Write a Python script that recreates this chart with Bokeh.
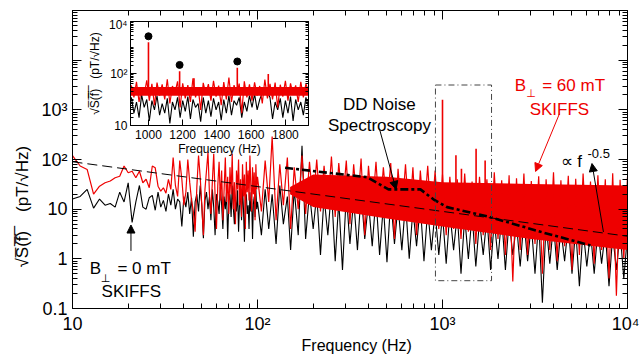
from bokeh.plotting import figure
from bokeh.models import LogAxis, LinearAxis, FixedTicker, Arrow, NormalHead, Range1d
from bokeh.embed import file_html
from bokeh.resources import INLINE
from bokeh.core.properties import value

RED = "#ee0000"
FONT = "Liberation Sans"

# ---------------- data ----------------
low_f = list(range(10, 100))  # 1 Hz bins
red_low = [120, 74, 63, 20, 29, 34, 37, 43, 46, 74,
           54, 58, 43, 58, 34, 40, 27, 74, 68, 29,
           23, 27, 21, 40, 25, 110, 30, 18, 95, 40,
           12, 22, 100, 35, 15, 9, 3.5, 28, 120, 45,
           12, 3, 25, 60, 140, 20, 8, 35, 130, 18,
           4, 30, 90, 15, 60, 6, 25, 110, 14, 45,
           8, 70, 20, 130, 10, 35, 5, 60, 25, 100,
           12, 40, 7, 80, 18, 50, 4, 90, 22, 60,
           15, 120, 30, 9, 70, 20, 55, 6, 80, 25]
black_low = [16, 18, 25, 10.5, 16, 12, 13, 11, 22, 14,
             34, 5.4, 14, 30, 11, 10, 17, 19, 9.5, 22,
             11, 15, 9, 20, 12, 25, 10, 16, 14, 4.5,
             18, 11, 22, 8, 17, 2.8, 14, 20, 9, 30,
             12, 2.6, 15, 22, 10, 18, 6, 25, 11, 3,
             20, 14, 8, 28, 12, 4, 18, 10, 22, 2.5,
             15, 20, 7, 30, 11, 5, 16, 9, 24, 3.5,
             14, 18, 6, 26, 10, 2.2, 15, 20, 8, 12,
             4, 22, 9, 16, 2.5, 13, 18, 7, 25, 10]

dense_f = [100, 105, 110, 115, 120, 126, 132, 138, 145, 151,
           158, 166, 174, 182, 191, 200, 209, 219, 229, 240,
           251, 263, 275, 288, 302, 316, 331, 347, 363, 380,
           398, 417, 437, 457, 479, 501, 525, 550, 575, 603,
           631, 661, 692, 724, 759, 794, 832, 871, 912, 955,
           1000, 1047, 1096, 1148, 1202, 1259, 1318, 1380, 1445, 1514,
           1585, 1660, 1738, 1820, 1905, 1995, 2089, 2188, 2291, 2399,
           2512, 2630, 2754, 2884, 3020, 3162, 3311, 3467, 3631, 3802,
           3981, 4169, 4365, 4571, 4786, 5012, 5248, 5495, 5754, 6026,
           6310, 6607, 6918, 7244, 7586, 7943, 8318, 8710, 9120, 9550,
           10000]
red_dense = [45, 9, 95, 14, 290, 6, 80, 12, 110, 4,
             70, 10, 120, 8, 90, 13, 100, 9, 75, 11,
             115, 7, 85, 12, 95, 5, 80, 10, 105, 3,
             75, 9, 90, 7, 70, 11, 85, 2.5, 65, 8,
             80, 6, 70, 3, 60, 7, 75, 5, 60, 4,
             50, 3, 45, 4, 40, 2.5, 52, 3.5, 36, 2,
             45, 3, 40, 1.5, 55, 2.5, 38, 1.2, 48, 0.35,
             42, 1.5, 52, 1.2, 37, 2, 46, 0.5, 40, 1.5,
             55, 0.9, 38, 1.8, 47, 0.6, 41, 1.2, 52, 2,
             36, 0.8, 48, 1.5, 40, 0.4, 53, 0.18, 39, 1,
             45]
black_dense = [14, 3, 25, 4, 20, 2, 30, 5, 18, 1.5,
               25, 3, 190, 2.5, 22, 4, 20, 1.2, 18, 3,
               25, 0.9, 15, 0.6, 20, 2, 16, 1.5, 22, 2.5,
               14, 1.8, 18, 1.2, 12, 0.85, 16, 2, 12, 1.5,
               14, 1, 10, 1.8, 12, 0.9, 10, 1.5, 9, 1.2,
               8, 0.8, 9, 1.5, 8, 0.5, 7, 1, 8, 0.7,
               6, 1.2, 7, 0.6, 6, 1, 7, 0.6, 6, 1.2,
               5, 0.7, 6, 0.9, 5, 0.5, 6, 0.13, 5, 0.8,
               5, 0.6, 4, 0.9, 5, 0.5, 4, 0.28, 4, 0.7,
               3.5, 0.5, 4, 0.8, 3.5, 0.28, 3, 0.6, 3.5, 0.4,
               3]

# solid core of the dense 60 mT band
core_f = [150, 200, 500, 1000, 3000, 10000]
red_core_lo = [20, 11, 6.5, 4.5, 2.5, 1.5]
red_core_hi = [28, 50, 45, 35, 32, 30]

# narrow peaks of the 60 mT spectrum
spike_f = [1000, 1182, 1266, 1519, 1700]
spike_v = [1600, 122, 65, 165, 95]
spike_base = [25, 25, 25, 25, 25]
dot_f = [1000, 1182, 1519]
dot_v = [2700, 214, 290]

# reference lines
fpow_f = [10, 10000]
fpow_v = [90, 2.85]
dd_f = [141, 392, 511, 760, 893, 1059, 1815, 3390, 6310]
dd_v = [68, 44, 25, 25, 15.8, 11, 6.9, 3.5, 1.86]

# zoom box
box_f = [916, 1841]
box_v = [0.363, 3162]

# inset spectra (linear frequency)
inset_f = list(range(900, 1936, 15))
inset_red = [35, 12, 48, 8, 30, 15, 55, 9, 40, 6,
             45, 14, 38, 10, 60, 7, 33, 18, 50, 5,
             42, 11, 36, 8, 65, 12, 30, 4, 44, 16,
             39, 9, 52, 13, 34, 6, 47, 10, 70, 8,
             36, 15, 41, 3, 50, 12, 38, 9, 46, 14,
             33, 7, 58, 11, 40, 10, 45, 5, 37, 13,
             52, 9, 42, 15, 35, 8, 48, 12, 40, 20]
inset_black = [12, 3, 8, 2, 15, 5, 10, 1.5, 9, 4,
               14, 2.5, 7, 3, 11, 1.2, 8, 4, 12, 2,
               9, 3.5, 13, 1.8, 10, 5, 7, 1.4, 12, 3,
               9, 2.2, 11, 4, 8, 1.6, 10, 3, 14, 2.5,
               9, 6, 12, 2, 8, 3.5, 14, 5, 16, 4,
               10, 18, 25, 20, 12, 1.8, 8, 4, 11, 2,
               9, 3, 13, 1.5, 10, 4, 8, 2.5, 12, 5]
inset_core_f = [895, 1935]
inset_red_lo = [14, 14]
inset_red_hi = [30, 30]

# tick labels
x_ticks = [10, 100, 1000, 10000]
x_labels = ["10", "10²", "10³", "10⁴"]
y_ticks = [0.1, 1, 10, 100, 1000, 10000, 100000]
y_labels = ["0.1", "1", "10", "10²", "10³", "\u00a0", "\u00a0"]
ix_ticks = [1000, 1200, 1400, 1600, 1800]
iy_ticks = [1, 100, 10000]
iy_labels = ["10", "10²", "10⁴"]

# ---------------- helpers ----------------
def minors(k0, k1):
    return [m * 10.0 ** k for k in range(k0, k1) for m in range(2, 10)]


def style_axis(ax, major_in, minor_in, size, labels=True):
    ax.major_tick_in = major_in
    ax.major_tick_out = 0
    ax.minor_tick_in = minor_in
    ax.minor_tick_out = 0
    ax.axis_line_color = "black"
    ax.major_tick_line_color = "black"
    ax.minor_tick_line_color = "black"
    ax.major_label_text_font = FONT
    ax.major_label_text_color = "black"
    ax.axis_label_text_font = FONT
    ax.axis_label_text_font_style = "normal"
    ax.axis_label_text_color = "black"
    if labels:
        ax.major_label_text_font_size = size
    else:
        ax.major_label_text_font_size = "1px"
        ax.major_label_text_alpha = 0
        ax.major_label_standoff = 0


# ---------------- main figure ----------------
p = figure(width=639, height=356, x_axis_type="log", y_axis_type="log",
           x_range=Range1d(10, 10000), y_range=Range1d(0.1, 100000),
           output_backend="svg", toolbar_location=None,
           min_border_left=72, min_border_right=12, min_border_top=10, min_border_bottom=46)
p.grid.visible = False
p.outline_line_color = "black"
p.background_fill_color = "white"

xa = p.xaxis[0]
ya = p.yaxis[0]
xa.ticker = FixedTicker(ticks=x_ticks, minor_ticks=minors(1, 4))
ya.ticker = FixedTicker(ticks=y_ticks, minor_ticks=minors(-1, 5))
style_axis(xa, 9, 5, "18px")
style_axis(ya, 9, 5, "18px")
xa.major_label_overrides = dict(zip(x_ticks, x_labels))
ya.major_label_overrides = dict(zip(y_ticks, y_labels))
xa.axis_label = "\u00a0\u00a0\u00a0Frequency (Hz)"
xa.axis_label_text_font_size = "16px"
xa.axis_label_standoff = 0
xa.major_label_standoff = 5
ya.axis_label = "√S̅(̅f̅)̅\u00a0\u00a0\u00a0\u00a0(pT/√Hz)" + "\u00a0" * 20
ya.axis_label_text_font_size = "17px"
ya.axis_label_standoff = 6
ya.major_label_standoff = 5

top = LogAxis(ticker=FixedTicker(ticks=x_ticks, minor_ticks=minors(1, 4)))
style_axis(top, 9, 5, "1px", labels=False)
p.add_layout(top, "above")
right = LogAxis(ticker=FixedTicker(ticks=y_ticks, minor_ticks=minors(-1, 5)))
style_axis(right, 9, 5, "1px", labels=False)
p.add_layout(right, "right")

# spectra
p.line(x=low_f + dense_f, y=black_low + black_dense, line_color="black", line_width=1.1)
p.varea(x=core_f, y1=red_core_lo, y2=red_core_hi, fill_color=RED)
p.line(x=low_f + dense_f, y=red_low + red_dense, line_color=RED, line_width=1.2)
p.segment(x0=spike_f, y0=spike_base, x1=spike_f, y1=spike_v, line_color=RED, line_width=1.6)

# reference lines
p.line(x=fpow_f, y=fpow_v, line_color="black", line_width=1, line_dash="10 5")
p.line(x=dd_f, y=dd_v, line_color="black", line_width=2.6, line_dash="8 3 3 3")
p.quad(left=[box_f[0]], right=[box_f[1]], bottom=[box_v[0]], top=[box_v[1]],
       fill_alpha=0, line_color="#444444", line_width=1, line_dash="6 3 1 3")

# annotations
tf = value(FONT)
sf = value("DejaVu Sans")
p.text(x=[456, 456], y=[1259, 485], text=["DD Noise", "Spectroscopy"], text_font=tf,
       text_font_size="17px", text_align="center", text_baseline="alphabetic", text_color="black")
p.text(x=[2460, 3459], y=[3119, 3119], text=["B", "= 60 mT"], text_font=tf,
       text_font_size="17px", text_align="left", text_baseline="alphabetic", text_color=RED)
p.text(x=[3006], y=[2158], text=["⊥"], text_font=sf,
       text_font_size="11px", text_align="center", text_baseline="alphabetic", text_color=RED)
p.text(x=[4285], y=[1000], text=["SKIFFS"], text_font=tf,
       text_font_size="17px", text_align="center", text_baseline="alphabetic", text_color=RED)
p.text(x=[12.4, 17.5], y=[0.63, 0.63], text=["B", "= 0 mT"], text_font=tf,
       text_font_size="17px", text_align="left", text_baseline="alphabetic", text_color="black")
p.text(x=[15.1], y=[0.398], text=["⊥"], text_font=sf,
       text_font_size="11px", text_align="center", text_baseline="alphabetic", text_color="black")
p.text(x=[20.8], y=[0.219], text=["SKIFFS"], text_font=tf,
       text_font_size="17px", text_align="center", text_baseline="alphabetic", text_color="black")
p.text(x=[4345], y=[92.5], text=["∝ f"], text_font=tf,
       text_font_size="17px", text_align="left", text_baseline="alphabetic", text_color="black")
p.text(x=[6081], y=[132], text=["-0.5"], text_font=tf,
       text_font_size="13px", text_align="left", text_baseline="alphabetic", text_color="black")

arrows = [
    (20.7, 1.445, 20.7, 4.79, "black"),
    (456, 417, 561, 25.1, "black"),
    (4285, 832, 3184, 57.5, RED),
    (7413, 3.47, 6427, 83, "black"),
]
for x0, y0, x1, y1, c in arrows:
    p.add_layout(Arrow(end=NormalHead(size=8, fill_color=c, line_color=c, line_width=1),
                       x_start=x0, y_start=y0, x_end=x1, y_end=y1,
                       line_color=c, line_width=1))

# ---------------- inset figure ----------------
q = figure(width=230, height=141, y_axis_type="log",
           x_range=Range1d(895, 1935), y_range=Range1d(1, 10000),
           output_backend="svg", toolbar_location=None,
           min_border_left=44, min_border_right=6, min_border_top=4, min_border_bottom=33)
q.grid.visible = False
q.outline_line_color = "black"
q.background_fill_color = "white"
q.border_fill_alpha = 0

qx = q.xaxis[0]
qy = q.yaxis[0]
qx.ticker = FixedTicker(ticks=ix_ticks)
qy.ticker = FixedTicker(ticks=iy_ticks, minor_ticks=[10, 1000] + minors(0, 4))
style_axis(qx, 6, 3, "12px")
style_axis(qy, 6, 3, "12px")
qy.major_label_overrides = dict(zip(iy_ticks, iy_labels))
qx.axis_label = "Frequency (Hz)"
qx.axis_label_text_font_size = "12px"
qx.axis_label_standoff = 0
qx.major_label_standoff = 4
qy.axis_label = "√S̅(̅f̅)̅\u00a0\u00a0\u00a0(pT/√Hz)"
qy.axis_label_text_font_size = "12px"
qy.axis_label_standoff = 4
qy.major_label_standoff = 3

qtop = LinearAxis(ticker=FixedTicker(ticks=ix_ticks))
style_axis(qtop, 6, 3, "1px", labels=False)
q.add_layout(qtop, "above")
qright = LogAxis(ticker=FixedTicker(ticks=iy_ticks, minor_ticks=[10, 1000] + minors(0, 4)))
style_axis(qright, 6, 3, "1px", labels=False)
q.add_layout(qright, "right")

q.line(x=inset_f, y=inset_black, line_color="black", line_width=1.1)
q.varea(x=inset_core_f, y1=inset_red_lo, y2=inset_red_hi, fill_color=RED)
q.line(x=inset_f, y=inset_red, line_color=RED, line_width=1.2)
q.segment(x0=spike_f, y0=spike_base, x1=spike_f, y1=spike_v, line_color=RED, line_width=1.6)
q.scatter(x=dot_f, y=dot_v, size=7, fill_color="black", line_color="black")

q.styles = {"position": "absolute", "left": "84px", "top": "17px"}

open("out.html", "w").write(file_html([p, q], INLINE))
